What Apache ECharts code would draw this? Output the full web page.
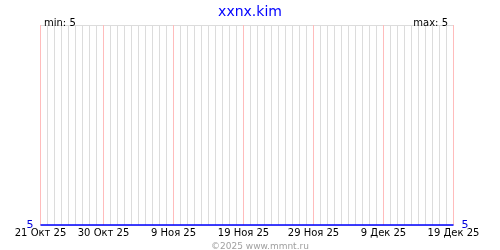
<!DOCTYPE html>
<html><head><meta charset="utf-8">
<script src="https://cdn.jsdelivr.net/npm/echarts@6/dist/echarts.min.js"></script>
<style>html,body{margin:0;padding:0;background:#fff}#c{width:500px;height:250px}</style>
</head><body><div id="c"></div>
<script>
const startDate = [2025, 9, 21]; // 21 Oct 2025
const dayCount = 60;
const monthNames = ['Янв','Фев','Мар','Апр','Май','Июн','Июл','Авг','Сен','Окт','Ноя','Дек'];
const labelIndices = [0, 9, 19, 29, 39, 49, 59];
const values = [5,5,5,5,5,5,5,5,5,5, 5,5,5,5,5,5,5,5,5,5, 5,5,5,5,5,5,5,5,5,5,
                5,5,5,5,5,5,5,5,5,5, 5,5,5,5,5,5,5,5,5,5, 5,5,5,5,5,5,5,5,5,5];
const titleText = 'xxnx.kim';
const minText = 'min: 5';
const maxText = 'max: 5';
const footerText = '©2025 www.mmnt.ru';

const categories = [];
for (let i = 0; i < dayCount; i++) {
  const d = new Date(startDate[0], startDate[1], startDate[2] + i);
  categories.push(d.getDate() + ' ' + monthNames[d.getMonth()] + ' ' + String(d.getFullYear()).slice(2));
}
const isLabel = (idx) => labelIndices.indexOf(idx) >= 0;
const font = 'DejaVu Sans';
const splitColors = categories.map((c, i) => isLabel(i) ? '#ffbcbc' : '#dcdcdc');

const chart = echarts.init(document.getElementById('c'), null, {renderer: 'canvas'});
chart.setOption({
  animation: false,
  backgroundColor: '#fff',
  textStyle: {fontFamily: font},
  title: [
    {text: titleText, left: 'center', top: 0, textStyle: {color: '#0000ff', fontSize: 14, fontWeight: 'normal', fontFamily: font}},
    {text: minText, left: 39, top: 13, textStyle: {color: '#000', fontSize: 10, fontWeight: 'normal', fontFamily: font}},
    {text: maxText, right: 47, top: 13, textStyle: {color: '#000', fontSize: 10, fontWeight: 'normal', fontFamily: font}},
    {text: footerText, left: 206, top: 237, textStyle: {color: '#a0a0a0', fontSize: 9, fontWeight: 'normal', fontFamily: font}}
  ],
  grid: {left: 40.5, right: 46.5, top: 25, bottom: 25, containLabel: false},
  xAxis: [
    {type: 'category', data: categories, boundaryGap: false,
     axisLine: {show: false}, axisTick: {show: false},
     axisLabel: {show: true, interval: (i) => isLabel(i), margin: 3, color: '#000', fontSize: 10, fontFamily: font},
     splitLine: {show: true, interval: 0, lineStyle: {color: splitColors, width: 1}}}
  ],
  yAxis: [
    {type: 'value', min: 5, max: 6, interval: 1, position: 'left',
     axisLine: {show: false}, axisTick: {show: false},
     axisLabel: {margin: 7, color: '#0000dd', fontSize: 11, fontFamily: font, formatter: (v) => v === 5 ? '5' : ''},
     splitLine: {show: true, lineStyle: {color: '#dcdcdc', width: 1}}},
    {type: 'value', min: 5, max: 6, interval: 1, position: 'right',
     axisLine: {show: false}, axisTick: {show: false},
     axisLabel: {margin: 8, color: '#0000dd', fontSize: 11, fontFamily: font, formatter: (v) => v === 5 ? '5' : ''},
     splitLine: {show: false}}
  ],
  series: [
    {type: 'line', data: values, xAxisIndex: 0, yAxisIndex: 0, symbol: 'none', clip: false,
     lineStyle: {color: '#0000ff', width: 1.5}, z: 10}
  ]
});
</script></body></html>
